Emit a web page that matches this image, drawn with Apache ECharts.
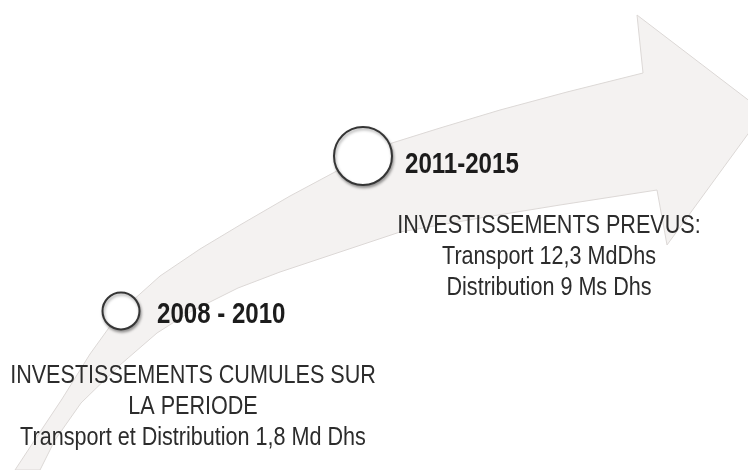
<!DOCTYPE html>
<html>
<head>
<meta charset="utf-8">
<script src="https://cdn.jsdelivr.net/npm/echarts@6/dist/echarts.min.js"></script>
<style>
html, body { margin: 0; padding: 0; background: #fff; }
#chart { width: 748px; height: 470px; }
</style>
</head>
<body>
<div id="chart"></div>
<script>
// arrow outline, in picture units (x to the right, y downwards)
var arrowTop = [[15,470],[40,432],[62,399],[90,354],[121,311],[160,276],[200,249],[240,225],[290,196],[333,173],[363,157],[392,143],[440,128],[500,110],[567,92],[643,73]];
var arrowHead = [[637,15],[764,112],[667,245]];
var arrowBottom = [[657,190],[560,205],[480,218],[400,232],[340,252],[280,272],[238,288],[190,312],[157,333],[120,365],[81,403],[55,440],[40,470]];

var periods = ['2008 - 2010', '2011-2015'];
var markers = [[121,311],[363,156]];
var markerSize = [37, 58];
var details = [
    ['INVESTISSEMENTS CUMULES SUR', 'LA PERIODE', 'Transport et Distribution 1,8 Md Dhs'],
    ['INVESTISSEMENTS PREVUS:', 'Transport 12,3 MdDhs', 'Distribution 9 Ms Dhs']
];

// no narrow face installed, so Liberation Sans is squeezed to look like Arial Narrow
var FONT = '"Liberation Sans", Arial, sans-serif';
var NARROW = 0.83;
var outline = arrowTop.concat(arrowHead, arrowBottom);

var chart = echarts.init(document.getElementById('chart'));
chart.setOption({
    animation: false,
    grid: {left: 0, right: 0, top: 0, bottom: 0},
    xAxis: {type: 'value', min: 0, max: 748, show: false},
    yAxis: {type: 'value', min: 0, max: 470, inverse: true, show: false},
    series: [
        {
            name: 'arrow',
            type: 'custom',
            data: [0],
            silent: true,
            z: 1,
            renderItem: function (params, api) {
                return {
                    type: 'polygon',
                    shape: {points: outline.map(function (p) { return api.coord(p); })},
                    style: {fill: '#f4f2f1', stroke: '#dcd8d6', lineWidth: 1}
                };
            }
        },
        {
            name: 'markers',
            type: 'scatter',
            z: 3,
            data: markers.map(function (p, i) {
                return {value: p, symbolSize: markerSize[i]};
            }),
            symbol: 'circle',
            itemStyle: {
                color: '#fff', opacity: 1, borderColor: '#353535', borderWidth: 2,
                shadowColor: 'rgba(0,0,0,0.35)', shadowBlur: 3, shadowOffsetX: 1, shadowOffsetY: 2
            }
        },
        {
            name: 'periods',
            type: 'custom',
            z: 4,
            // label anchor: left edge, vertical middle
            data: [[157, 315, 0], [405, 165, 1]],
            renderItem: function (params, api) {
                var pt = api.coord([api.value(0), api.value(1)]);
                return {
                    type: 'text',
                    x: pt[0], y: pt[1],
                    scaleX: NARROW,
                    style: {
                        text: periods[api.value(2)],
                        font: 'bold 29px ' + FONT,
                        fill: '#1c1c1c',
                        align: 'left',
                        verticalAlign: 'middle'
                    }
                };
            }
        },
        {
            name: 'details',
            type: 'custom',
            z: 4,
            data: [[193, 407, 0], [549, 257, 1]],
            renderItem: function (params, api) {
                var pt = api.coord([api.value(0), api.value(1)]);
                return {
                    type: 'text',
                    x: pt[0], y: pt[1],
                    scaleX: NARROW,
                    style: {
                        text: details[api.value(2)].join('\n'),
                        font: '26px ' + FONT,
                        lineHeight: 31,
                        fill: '#2c2c2c',
                        align: 'center',
                        verticalAlign: 'middle'
                    }
                };
            }
        }
    ]
});
window.addEventListener('resize', function () {
    chart.resize();
});
</script>
</body>
</html>
